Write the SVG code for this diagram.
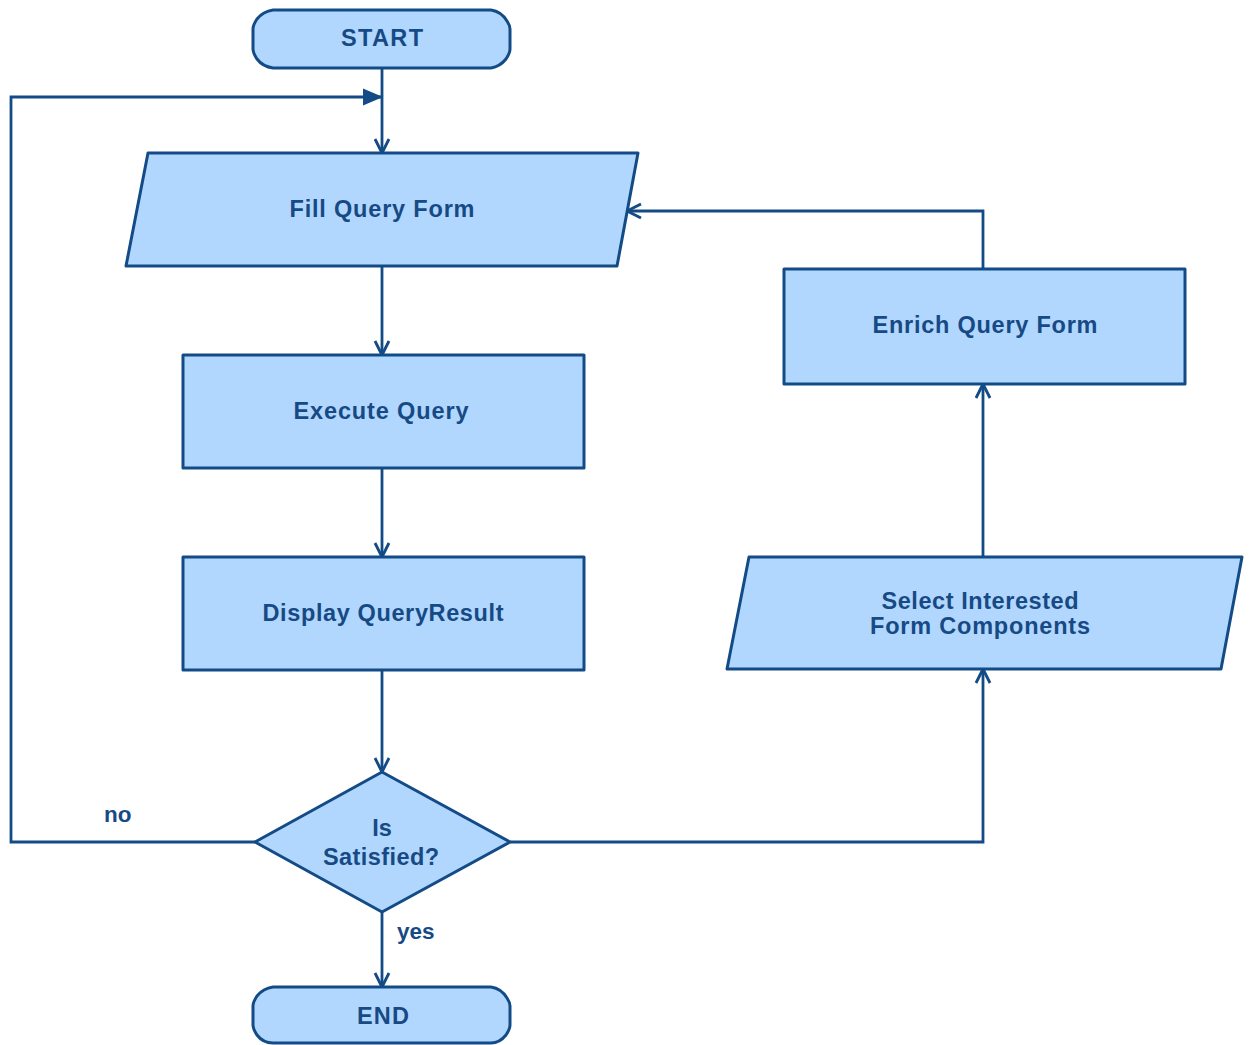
<svg xmlns="http://www.w3.org/2000/svg" width="1250" height="1045" viewBox="0 0 1250 1045">
  <style>
    .shape { fill: #b1d7fe; stroke: #134b86; stroke-width: 3; stroke-linejoin: round; }
    .label { font-family: "Liberation Sans", Arial, sans-serif; font-weight: bold; font-size: 23.5px; fill: #174a85; text-anchor: middle; }
    .edge { fill: none; stroke: #134b86; stroke-width: 2.8; stroke-linejoin: miter; }
    .edge-label { font-family: "Liberation Sans", Arial, sans-serif; font-weight: bold; font-size: 22.5px; fill: #174a85; }
  </style>
  <defs>
    <marker id="open-arrow" markerUnits="userSpaceOnUse" markerWidth="20" markerHeight="20" viewBox="0 0 20 20" refX="16" refY="10" orient="auto">
      <path d="M2,3 L16,10 L2,17" fill="none" stroke="#134b86" stroke-width="2.8"/>
    </marker>
    <marker id="solid-arrow" markerUnits="userSpaceOnUse" markerWidth="24" markerHeight="24" viewBox="0 0 24 24" refX="21" refY="12" orient="auto">
      <path d="M1,3.5 L21,12 L1,20.5 Z" fill="#134b86"/>
    </marker>
  </defs>

  <!-- connectors -->
  <g id="edges">
    <path class="edge" d="M382,68 L382,153" marker-end="url(#open-arrow)"/>
    <path class="edge" d="M382,266 L382,355" marker-end="url(#open-arrow)"/>
    <path class="edge" d="M382,468 L382,557" marker-end="url(#open-arrow)"/>
    <path class="edge" d="M382,670 L382,772" marker-end="url(#open-arrow)"/>
    <path class="edge" d="M382,912 L382,987" marker-end="url(#open-arrow)"/>
    <path class="edge" d="M255,842 L11,842 L11,97 L383,97" marker-end="url(#solid-arrow)"/>
    <path class="edge" d="M510,842 L983,842 L983,669" marker-end="url(#open-arrow)"/>
    <path class="edge" d="M983,557 L983,384" marker-end="url(#open-arrow)"/>
    <path class="edge" d="M983,269 L983,211 L627,211" marker-end="url(#open-arrow)"/>
    <text class="edge-label" x="104" y="822">no</text>
    <text class="edge-label" x="397" y="939">yes</text>
  </g>

  <!-- terminals use a softly chamfered outline -->
  <g id="start">
    <path class="shape" d="M273,10 L491,10 C498,11 504,16 507,21 C509,24 510,26 510,29 L510,49 C510,53 508,56 506,59 C502,64 497,67 491,68 L273,68 C266,67 260,63 257,59 C255,56 253,53 253,49 L253,29 C253,25 255,22 257,19 C261,14 266,11 273,10 Z"/>
    <text class="label" x="382" y="46" textLength="82" lengthAdjust="spacing">START</text>
  </g>

  <g id="fill-query-form">
    <path class="shape" d="M148,153 L638,153 L617,266 L126,266 Z"/>
    <text class="label" x="382" y="217" textLength="185" lengthAdjust="spacing">Fill Query Form</text>
  </g>

  <g id="execute-query">
    <rect class="shape" x="183" y="355" width="401" height="113"/>
    <text class="label" x="381" y="419" textLength="175" lengthAdjust="spacing">Execute Query</text>
  </g>

  <g id="display-query-result">
    <rect class="shape" x="183" y="557" width="401" height="113"/>
    <text class="label" x="383" y="621" textLength="241" lengthAdjust="spacing">Display QueryResult</text>
  </g>

  <g id="is-satisfied">
    <path class="shape" d="M382,772 L510,842 L382,912 L255,842 Z"/>
    <text class="label" x="382" y="836">Is</text>
    <text class="label" x="381" y="865" textLength="116" lengthAdjust="spacing">Satisfied?</text>
  </g>

  <g id="end">
    <path class="shape" d="M273,987 L491,987 C498,988 504,993 507,998 C509,1001 510,1003 510,1006 L510,1025 C510,1029 508,1032 506,1035 C502,1040 497,1043 491,1043 L273,1043 C266,1043 260,1039 257,1035 C255,1032 253,1029 253,1025 L253,1006 C253,1002 255,999 257,996 C261,991 266,988 273,987 Z"/>
    <text class="label" x="383" y="1024" textLength="52" lengthAdjust="spacing">END</text>
  </g>

  <g id="enrich-query-form">
    <rect class="shape" x="784" y="269" width="401" height="115"/>
    <text class="label" x="985" y="333" textLength="225" lengthAdjust="spacing">Enrich Query Form</text>
  </g>

  <g id="select-components">
    <path class="shape" d="M749,557 L1242,557 L1221,669 L727,669 Z"/>
    <text class="label" x="980" y="609" textLength="197" lengthAdjust="spacing">Select Interested</text>
    <text class="label" x="980" y="634" textLength="220" lengthAdjust="spacing">Form Components</text>
  </g>
</svg>
